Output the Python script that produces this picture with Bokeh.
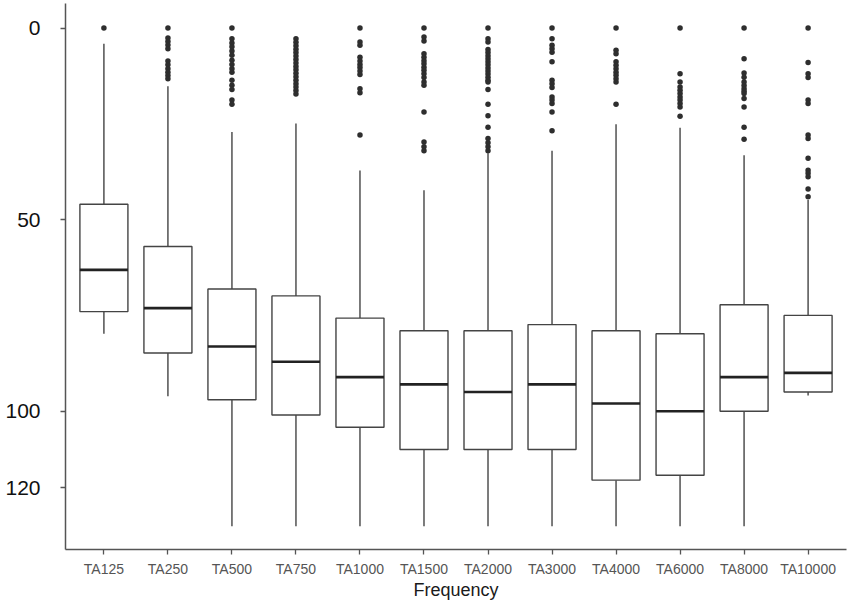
from bokeh.plotting import figure
from bokeh.models import Range1d, FactorRange, FixedTicker, ColumnDataSource
from bokeh.embed import file_html
from bokeh.resources import INLINE

categories = ["TA125", "TA250", "TA500", "TA750", "TA1000", "TA1500",
              "TA2000", "TA3000", "TA4000", "TA6000", "TA8000", "TA10000"]
whisker_low = [4.1, 15.2, 27.1, 24.9, 37.2, 42.3, 32.7, 32.0, 25.1, 26.0, 33.2, 44.9]
q1 = [46.0, 57.0, 68.1, 69.9, 75.7, 79.0, 79.0, 77.4, 79.0, 79.8, 72.2, 75.0]
median = [63.1, 73.1, 83.1, 87.1, 91.1, 93.0, 95.0, 93.0, 98.0, 100.0, 91.1, 90.0]
q3 = [74.0, 84.8, 97.0, 101.0, 104.2, 110.0, 110.0, 110.0, 118.0, 116.7, 100.0, 95.0]
whisker_high = [79.8, 96.1, 130, 130, 130, 130, 130, 130, 130, 130, 130, 95.9]
outliers = [
    [0],
    [0, 2.6, 3.5, 4.4, 5.4, 8.6, 9.6, 10.6, 11.5, 12.4, 13.2],
    [0, 2.8, 3.9, 4.9, 6.0, 7.1, 8.4, 9.5, 10.6, 11.5, 13.6, 14.9, 16.0, 18.8, 19.9],
    [2.8, 3.7, 4.6, 5.5, 6.4, 7.3, 8.2, 9.1, 10.0, 10.9, 11.8, 12.7, 13.6, 14.5, 15.4, 16.3, 17.2],
    [0, 3.6, 4.5, 7.6, 8.6, 9.5, 10.3, 11.2, 12.1, 15.8, 16.9, 27.9],
    [0, 2.3, 3.4, 6.7, 7.6, 8.5, 9.3, 10.2, 11.0, 11.9, 12.9, 14.1, 14.9, 21.9, 29.7, 31.0, 32.0],
    [0, 2.8, 3.6, 5.6, 6.4, 7.2, 8.0, 8.8, 9.6, 10.4, 11.2, 12.0, 12.8, 13.6, 14.1, 16.0,
     19.9, 22.9, 25.9, 28.8, 29.9, 31.0, 32.0],
    [0, 2.8, 4.5, 5.4, 6.3, 8.8, 13.6, 14.5, 15.5, 18.0, 18.8, 19.7, 21.9, 26.8],
    [0, 5.8, 6.7, 8.8, 9.7, 10.6, 11.5, 12.3, 13.2, 14.1, 19.9],
    [0, 11.9, 14.1, 15.4, 16.2, 17.1, 18.0, 18.8, 19.7, 20.6, 23.0],
    [0, 8.0, 11.7, 12.8, 14.1, 15.0, 15.8, 16.5, 17.1, 18.4, 20.6, 25.9, 29.0],
    [0, 9.0, 11.9, 12.9, 18.8, 19.7, 27.9, 28.8, 34.0, 37.1, 37.9, 38.8, 42.0, 44.0],
]
y_ticks = [0, 50, 100, 120]
x_title = "Frequency"

FONT = "Liberation Sans"
LINE = "#444444"

src = ColumnDataSource(dict(cat=categories, wl=whisker_low, q1=q1, med=median,
                            q3=q3, wh=whisker_high))
out_x = [c for c, vals in zip(categories, outliers) for _ in vals]
out_y = [v for vals in outliers for v in vals]

p = figure(width=850, height=602,
           x_range=FactorRange(*categories, range_padding=0.1, range_padding_units="absolute"),
           y_range=Range1d(136.1, -6.42),
           output_backend="svg", toolbar_location=None,
           min_border_left=65, min_border_right=4, min_border_top=3, min_border_bottom=51)
p.outline_line_color = None
p.xgrid.grid_line_color = None
p.ygrid.grid_line_color = None
p.background_fill_color = "white"
p.border_fill_color = "white"

# whiskers
p.segment(x0="cat", y0="wl", x1="cat", y1="q1", source=src, line_color=LINE, line_width=1.4)
p.segment(x0="cat", y0="q3", x1="cat", y1="wh", source=src, line_color=LINE, line_width=1.4)
# boxes
p.vbar(x="cat", width=0.75, top="q1", bottom="q3", source=src,
       fill_color="white", line_color=LINE, line_width=1.4)
# medians
p.rect(x="cat", y="med", width=0.75, height=2.6, height_units="screen", source=src,
       fill_color="#222222", line_color=None)
# outliers
p.scatter(x=out_x, y=out_y, size=5.5, fill_color="#2e2e2e", line_color=None)

# axes
for ax in (p.xaxis[0], p.yaxis[0]):
    ax.axis_line_color = "#555555"
    ax.axis_line_width = 1.5
    ax.major_tick_line_color = "#555555"
    ax.major_tick_line_width = 1.3
    ax.major_tick_in = 0
    ax.minor_tick_line_color = None

p.yaxis.ticker = FixedTicker(ticks=y_ticks)
p.yaxis.major_tick_out = 5
p.yaxis.major_label_standoff = 20
p.yaxis.major_label_text_font = FONT
p.yaxis.major_label_text_font_size = "21px"
p.yaxis.major_label_text_color = "#111111"

p.xaxis.major_tick_out = 5
p.xaxis.major_label_standoff = 6
p.xaxis.major_label_text_font = FONT
p.xaxis.major_label_text_font_size = "14px"
p.xaxis.major_label_text_color = "#555555"
p.xaxis.axis_label = x_title
p.xaxis.axis_label_standoff = 0
p.xaxis.axis_label_text_font = FONT
p.xaxis.axis_label_text_font_size = "18px"
p.xaxis.axis_label_text_font_style = "normal"
p.xaxis.axis_label_text_color = "#1a1a1a"

open("out.html", "w").write(file_html(p, INLINE))
